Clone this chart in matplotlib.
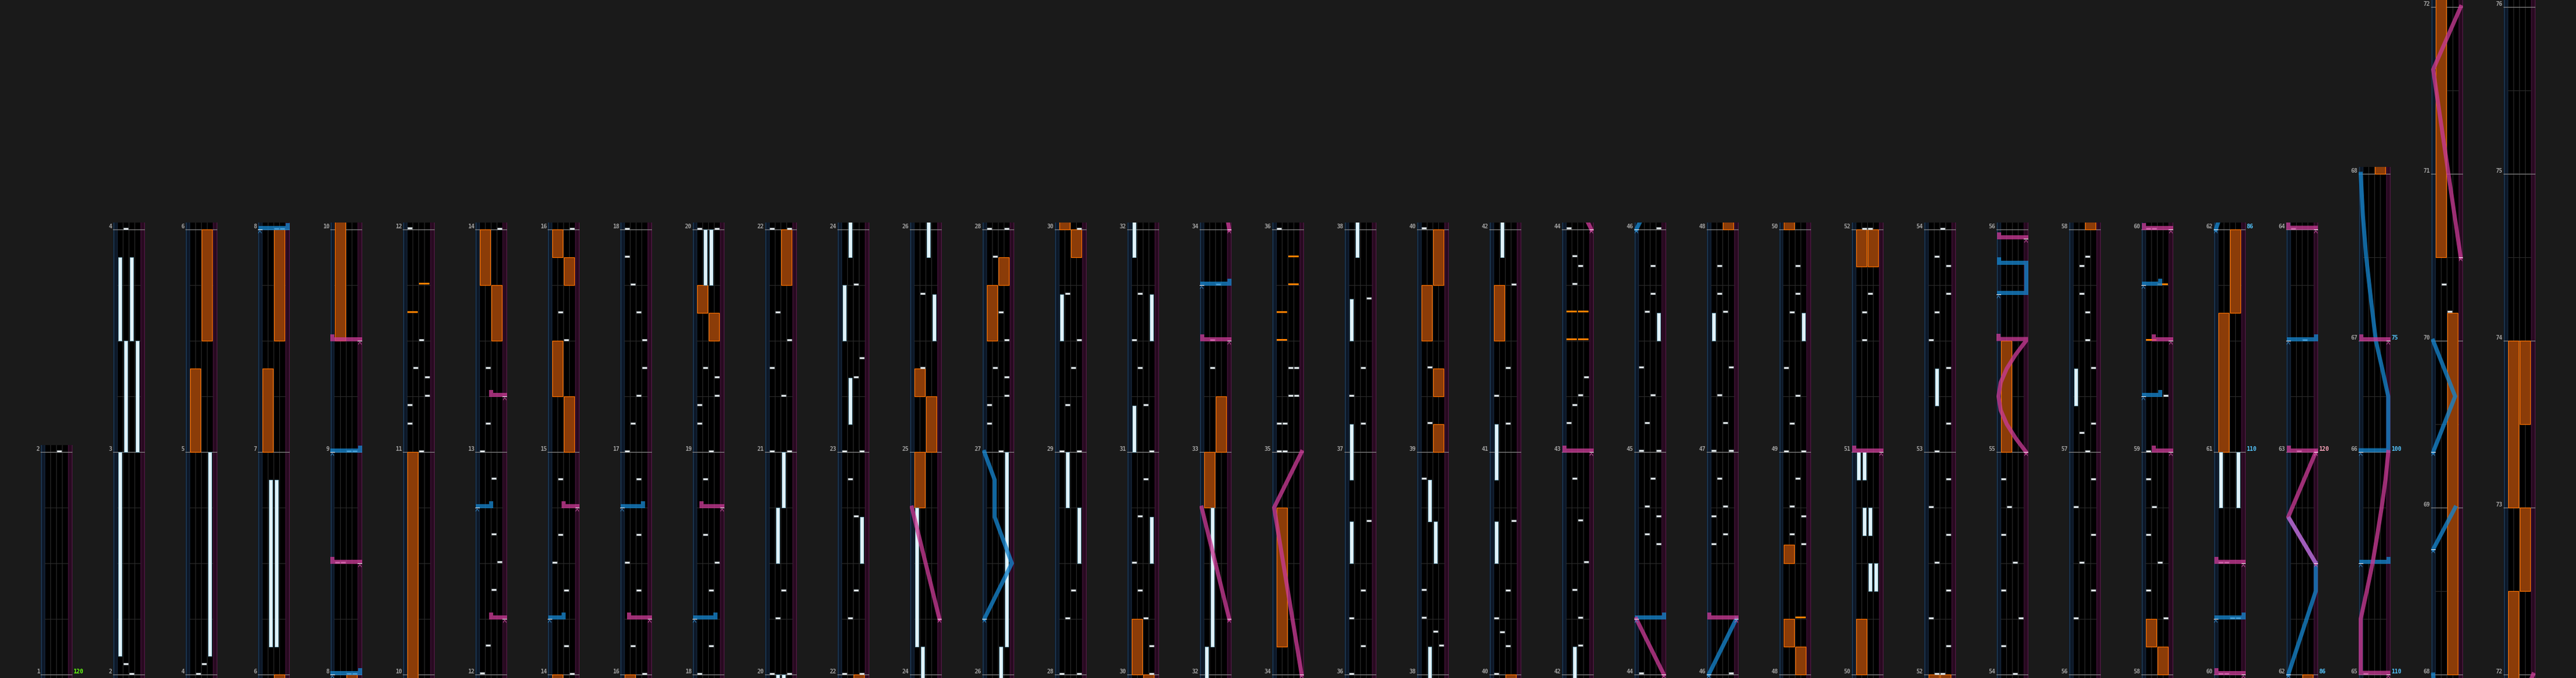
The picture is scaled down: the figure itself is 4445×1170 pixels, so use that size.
#!/usr/bin/env python3
"""
Chart preview: 4 BT lanes, 2 FX lanes and the two lasers, measures stacked
bottom-to-top in narrow columns, read left to right.
"""
import numpy as np
import matplotlib
matplotlib.use("Agg")
import matplotlib.pyplot as plt
from matplotlib.patches import Rectangle
from matplotlib.lines import Line2D

# ─── canvas ──────────────────────────────────────────────────────────────────
W_PX, H_PX, DPI = 4445, 1170, 100
PT = 72.0 / DPI            # one pixel expressed in points

# ─── layout (pixels) ─────────────────────────────────────────────────────────
COL_X0, COL_PITCH, COL_W = 70, 125, 55
STRIP = 7                  # laser strip at each side
LANE = 10                  # BT lane width
BASE_Y = 1164              # y of the first line of every column
PX_BEAT = 96               # 4/4 measure = 384 px
OVER_TOP = 12              # lanes reach a little above the last line

# ─── colours ─────────────────────────────────────────────────────────────────
BG = "#1a1a1a"
LANE_BG = "#000000"
GRID = "#2b2b2b"
BAR_LINE = "#8a8a8a"
STRIP_L, STRIP_L_EDGE = "#0d1828", "#22425f"
STRIP_R, STRIP_R_EDGE = "#280a20", "#571a49"
CHIP_FC, CHIP_EC = "#eef2f4", "#8d9aa0"
HOLD_FC, HOLD_EC = "#e2f2f8", "#78a9bd"
FX_FC, FX_EC = "#8b3c08", "#ff7300"
FX_CHIP = "#ff7f00"
LASER_COL = {"L": "#1684cc", "R": "#c83a94"}
CHEVRON = {"L": "#3d93d4", "R": "#d65cac"}
LABEL_COL = "#a2a2a2"
BPM_COL = {"start": "#66ff11", "down": "#55c6ff", "up": "#ffa6bd"}

# ─── measures / columns ──────────────────────────────────────────────────────
COLUMNS = [[1], [2, 3], [4, 5], [6, 7], [8, 9], [10, 11], [12, 13], [14, 15],
           [16, 17], [18, 19], [20, 21], [22, 23], [24, 25], [26, 27], [28, 29],
           [30, 31], [32, 33], [34, 35], [36, 37], [38, 39], [40, 41], [42, 43],
           [44, 45], [46, 47], [48, 49], [50, 51], [52, 53], [54, 55], [56, 57],
           [58, 59], [60, 61], [62, 63], [65, 66, 67], [68, 69, 70, 71],
           [72, 73, 74, 75]]
SHORT_MEASURES = {66: 2, 67: 3, 68: 3, 69: 3, 70: 3, 71: 3,
                  72: 3, 73: 3, 74: 3, 75: 3}
GRID_BEATS = {4: [1, 2, 3], 3: [1.5], 2: [1]}

# ─── tempo marks (measure line, text, kind) ──────────────────────────────────
BPM_AT = [1, 61, 62, 63, 65, 66, 67]
BPM_TEXT = ["120", "110", "86", "120", "110", "100", "75"]
BPM_KIND = ["start", "down", "down", "up", "down", "down", "down"]

# ─── notes: time = measure + fraction of the measure ─────────────────────────
# BT chips (time, lane 0..3)
BT_CHIPS = [
    (2.0, 2), (2.0417, 1), (4.0, 1), (4.0417, 2),
    (8.0, 2), (8.0, 3), (8.5, 0), (8.5, 1), (9.0, 2), (9.0, 3),
    (11.0, 2), (11.125, 0), (11.208, 0), (11.25, 3), (11.333, 3), (11.375, 1), (11.5, 2),
    (12.0, 0), (12.125, 1), (12.375, 2), (12.5, 3), (12.625, 2), (12.875, 2),
    (13.0, 0), (13.125, 1), (13.375, 1),
    (14.0, 3), (14.125, 2), (14.375, 2), (14.5, 0), (14.625, 1), (14.875, 1),
    (15.5, 2), (15.625, 1),
    (16.0, 3), (16.125, 1), (16.375, 2), (16.5, 0), (16.625, 2), (16.875, 2),
    (17.0, 0), (17.125, 1), (17.25, 2), (17.375, 3), (17.5, 3), (17.625, 2), (17.75, 1), (17.875, 0),
    (18.0, 0), (18.125, 2), (18.375, 2), (18.5, 3), (18.625, 1), (18.875, 1),
    (19.0, 2), (19.125, 0), (19.208, 0), (19.25, 3), (19.333, 3), (19.375, 1),
    (20.0, 0), (20.0, 3), (20.25, 1), (20.375, 2),
    (21.0, 0), (21.0, 3), (21.25, 2), (21.375, 0), (21.5, 3), (21.625, 1),
    (22.0, 0), (22.0, 3), (22.25, 1), (22.375, 2), (22.708, 2), (22.875, 1),
    (23.0, 0), (23.0, 3), (23.333, 2), (23.417, 3), (23.75, 2),
    (25.375, 1), (25.708, 1),
    (27.0, 2), (27.125, 0), (27.208, 0), (27.25, 3), (27.333, 3), (27.375, 1), (27.5, 3),
    (27.625, 2), (27.875, 1),
    (28.0, 0), (28.0, 3), (28.25, 1), (28.375, 2),
    (29.0, 0), (29.0, 3), (29.208, 1), (29.375, 2), (29.5, 3), (29.708, 1),
    (30.0, 3), (30.125, 3), (30.25, 2), (30.375, 1), (30.5, 0), (30.708, 1), (30.875, 2),
    (31.0, 3), (31.208, 2), (31.375, 1), (31.5, 0), (31.708, 1),
    (33.375, 1), (33.5, 1), (33.75, 2),
    (35.0, 0), (35.0, 1), (35.125, 0), (35.125, 1), (35.25, 2), (35.25, 3), (35.375, 2), (35.375, 3),
    (36.0, 0), (36.125, 2), (36.25, 0), (36.375, 2), (36.6875, 3),
    (37.125, 2), (37.25, 0), (37.375, 2), (37.6875, 3),
    (38.125, 3), (38.1875, 2), (38.25, 0), (38.375, 0), (38.875, 0),
    (39.125, 1), (39.375, 1),
    (40.0, 0), (40.125, 2), (40.1875, 1), (40.25, 0), (40.375, 2), (40.6875, 3),
    (41.125, 2), (41.25, 0), (41.375, 2), (41.75, 3),
    (42.125, 2), (42.25, 2), (42.375, 1), (42.5, 3), (42.6875, 2), (42.875, 1),
    (43.125, 0), (43.208, 1), (43.25, 2), (43.333, 3), (43.75, 1), (43.833, 2), (43.875, 1),
    (44.0, 0), (44.583, 3), (44.625, 1), (44.708, 3), (44.75, 1), (44.875, 2),
    (45.0, 0), (45.0, 3), (45.125, 1), (45.25, 2), (45.375, 0), (45.625, 1), (45.708, 2), (45.833, 2),
    (46.0, 3), (46.583, 0), (46.625, 2), (46.708, 0), (46.75, 2), (46.875, 1),
    (47.0, 0), (47.0, 3), (47.125, 2), (47.25, 1), (47.375, 3), (47.625, 2), (47.708, 1), (47.833, 1),
    (48.583, 3), (48.625, 1), (48.708, 3), (48.75, 1), (48.875, 2),
    (49.0, 0), (49.0, 3), (49.125, 1), (49.25, 2), (49.375, 0), (49.625, 1), (49.708, 2), (49.833, 2),
    (51.5, 1), (51.625, 1), (51.708, 2),
    (52.0, 1), (52.0, 2), (52.125, 3), (52.25, 0), (52.375, 3), (52.5, 1), (52.625, 3), (52.75, 0), (52.875, 3),
    (53.0, 1), (53.125, 3), (53.375, 3), (53.5, 0), (53.625, 1), (53.708, 3), (53.833, 3), (53.875, 1),
    (54.0, 2), (54.125, 0), (54.25, 3), (54.375, 0), (54.5, 2), (54.625, 0), (54.75, 1), (54.875, 0),
    (56.25, 0), (56.375, 3), (56.5, 1), (56.625, 3), (56.75, 0), (56.875, 3),
    (57.0, 2), (57.083, 1), (57.125, 3), (57.375, 3), (57.5, 2), (57.625, 2), (57.708, 1),
    (57.833, 1), (57.875, 2),
    (58.25, 3), (58.375, 0), (58.5, 2), (58.625, 0), (58.75, 1), (58.875, 0),
    (59.0, 0), (59.25, 3),
    (60.0, 0), (60.0, 1), (60.25, 2), (60.25, 3), (60.5, 0), (60.5, 1),
    (63.0, 1), (63.5, 2), (65.0, 0),
    (70.167, 2), (70.333, 1),
]

# BT holds (lane, start, end)
BT_HOLDS = [
    (0, 2.083, 3.0), (1, 3.0, 3.5), (3, 3.0, 3.5), (0, 3.5, 3.875), (2, 3.5, 3.875),
    (3, 4.083, 5.0), (1, 6.125, 6.875), (2, 6.125, 6.875),
    (1, 19.75, 20.0), (2, 19.75, 20.0), (1, 20.5, 20.75), (2, 20.75, 21.0),
    (3, 22.5, 22.708), (1, 23.125, 23.333), (0, 23.5, 23.75), (1, 23.875, 24.125),
    (0, 24.125, 24.75), (3, 25.5, 25.708), (2, 25.875, 26.125), (3, 26.125, 27.0),
    (3, 28.5, 28.75), (1, 28.75, 29.0), (0, 29.5, 29.708), (3, 30.5, 30.708),
    (0, 31.0, 31.208), (3, 31.5, 31.708), (0, 31.875, 32.125), (1, 32.125, 32.75),
    (0, 36.5, 36.6875), (0, 36.875, 37.125), (0, 37.5, 37.6875), (1, 37.875, 38.125),
    (2, 38.5, 38.6875), (1, 38.6875, 38.875),
    (0, 40.5, 40.6875), (0, 40.875, 41.125), (1, 41.875, 42.125),
    (3, 45.5, 45.625), (0, 47.5, 47.625), (3, 49.5, 49.625),
    (2, 50.375, 50.5), (3, 50.375, 50.5), (1, 50.625, 50.75), (2, 50.625, 50.75),
    (0, 50.875, 51.0), (1, 50.875, 51.0),
    (1, 53.208, 53.375), (0, 57.208, 57.375), (0, 60.75, 61.0), (3, 60.75, 61.0),
]

# FX chips (time, side 0=L 1=R)
FX_CHIPS = [(11.625, 0), (11.75, 1), (35.5, 0), (35.625, 0), (35.75, 1), (35.875, 1),
            (43.5, 0), (43.5, 1), (43.625, 0), (43.625, 1), (48.25, 1),
            (59.5, 0), (59.75, 1)]

# FX holds (side, start, end)
FX_HOLDS = [
    (0, 5.0, 5.375), (1, 5.5, 6.0), (0, 7.0, 7.375), (1, 7.5, 8.0), (0, 9.5, 11.0),
    (1, 13.5, 13.75), (0, 13.75, 14.0),
    (1, 15.0, 15.25), (0, 15.25, 15.5), (1, 15.75, 15.875), (0, 15.875, 16.0),
    (1, 19.5, 19.625), (0, 19.625, 19.75), (1, 21.75, 22.0),
    (0, 24.75, 25.0), (1, 25.0, 25.25), (0, 25.25, 25.375),
    (0, 27.5, 27.75), (1, 27.75, 27.875), (1, 29.875, 30.0), (0, 30.0, 30.25),
    (0, 32.75, 33.0), (1, 33.0, 33.25), (0, 34.125, 34.75),
    (1, 39.0, 39.125), (1, 39.25, 39.375), (0, 39.5, 39.75), (1, 39.75, 40.0),
    (0, 41.5, 41.75),
    (1, 48.0, 48.125), (0, 48.125, 48.25), (0, 48.5, 48.583), (0, 50.0, 50.25),
    (0, 51.833, 52.0), (1, 51.833, 52.0), (0, 55.0, 55.5),
    (1, 58.0, 58.125), (0, 58.125, 58.25), (0, 61.0, 61.625), (1, 61.625, 62.0),
    (1, 68.0, 70.167), (0, 70.5, 72.5), (1, 72.5, 73.0), (0, 73.0, 74.0), (1, 73.5, 74.0),
]

# lasers: list of (time, position 0=left .. 1=right); equal times = slam
LASER_L = [
    [(8.0, 0), (8.0, 1)], [(9.0, 0), (9.0, 1)],
    [(12.75, 0), (12.75, 0.5)], [(14.25, 0), (14.25, 0.5)],
    [(16.75, 0), (16.75, 0.75)], [(18.25, 0), (18.25, 0.75)],
    [(26.25, 0), (26.5, 1), (26.708, 0.375), (26.875, 0.375), (27.0, 0)],
    [(33.75, 0), (33.75, 1)], [(44.25, 0), (44.25, 1)], [(46.0, 0), (46.25, 1)],
    [(55.708, 0), (55.708, 1), (55.844, 1), (55.844, 0)],
    [(59.25, 0), (59.25, 0.6)], [(59.75, 0), (59.75, 0.6)], [(60.25, 0), (60.25, 1)],
    [(62.0, 0), (62.375, 1), (62.5, 1)], [(63.5, 0), (63.5, 1)], [(65.5, 0), (65.5, 1)],
    [(66.0, 0), (66.0, 1), (66.5, 1), (66.75, 0.78), (67.0, 0.55), (67.25, 0.37),
     (67.5, 0.2), (67.75, 0.08), (68.0, 0)],
    [(68.75, 0), (69.0, 0.8)], [(69.333, 0), (69.667, 0.8), (70.0, 0)],
]
LASER_R = [
    [(8.5, 1), (8.5, 0)], [(9.5, 1), (9.5, 0)],
    [(12.25, 1), (12.25, 0.5)], [(13.25, 1), (13.25, 0.5)], [(14.75, 1), (14.75, 0.5)],
    [(16.25, 1), (16.25, 0.25)], [(18.75, 1), (18.75, 0.25)],
    [(24.25, 1), (24.75, 0)], [(32.25, 1), (32.75, 0)], [(33.5, 1), (33.5, 0)],
    [(34.0, 1), (34.75, 0), (35.0, 1)], [(43.0, 1), (43.0, 0)], [(44.0, 1), (44.25, 0)],
    [(46.25, 1), (46.25, 0)], [(51.0, 1), (51.0, 0)],
    [(55.0, 1), (55.0625, 0.62), (55.125, 0.3), (55.1875, 0.08), (55.25, 0),
     (55.3125, 0.08), (55.375, 0.3), (55.4375, 0.62), (55.5, 1), (55.5, 0)],
    [(55.958, 1), (55.958, 0)], [(59.0, 1), (59.0, 0.37)], [(59.5, 1), (59.5, 0.37)],
    [(60.0, 1), (60.0, 0)], [(60.5, 1), (60.5, 0)],
    [(62.5, 1), (62.708, 0), (63.0, 1)], [(63.0, 1), (63.0, 0)],
    [(65.0, 1), (65.0, 0), (65.25, 0), (65.375, 0.22), (65.5, 0.43), (65.625, 0.6),
     (65.75, 0.76), (65.875, 0.9), (66.0, 1)],
    [(67.0, 1), (67.0, 0)], [(70.5, 1), (71.625, 0), (72.0, 1)],
]
# laser stretches drawn in a lighter tint on top
TINT_SEGMENTS = [[(62.5, 1), (62.708, 0)]]
TINT_COLOR = "#a066c8"

# ─── time helpers ────────────────────────────────────────────────────────────
START, LENGTH = {}, {}
acc = 0
for col in COLUMNS:
    for m in col:
        START[m] = acc
        LENGTH[m] = SHORT_MEASURES.get(m, 4)
        acc += LENGTH[m]
START[64], LENGTH[64] = START[65], 0
START[76], LENGTH[76] = acc, 0


def beat(t):
    m = int(np.floor(t + 1e-6))
    return START[m] + (t - m) * LENGTH[m]


def lx(p):
    """laser centre x inside a column"""
    return STRIP / 2 + p * (COL_W - STRIP / 2 - 4)


H_SLAM = 3.0 / PX_BEAT
TAIL = 8.5 / PX_BEAT


def laser_path(pts):
    xs, ys = [], []
    n = len(pts)
    for i, (t, p) in enumerate(pts):
        b = beat(t)
        slam_in = i > 0 and abs(pts[i - 1][0] - t) < 1e-6
        slam_out = i < n - 1 and abs(pts[i + 1][0] - t) < 1e-6
        if slam_in:
            xs.append(lx(p)); ys.append(b + H_SLAM)
        elif slam_out:
            if i > 0:
                xs.append(lx(p)); ys.append(b)
            xs.append(lx(p)); ys.append(b + H_SLAM)
        else:
            xs.append(lx(p)); ys.append(b)
    if n > 1 and abs(pts[-1][0] - pts[-2][0]) < 1e-6:
        xs.append(xs[-1]); ys.append(beat(pts[-1][0]) + TAIL)
    return xs, ys


# ─── figure ──────────────────────────────────────────────────────────────────
fig = plt.figure(figsize=(W_PX / DPI, H_PX / DPI), dpi=DPI, facecolor=BG)
bg = fig.add_axes([0, 0, 1, 1])
bg.set_xlim(0, W_PX)
bg.set_ylim(H_PX, 0)
bg.axis("off")

FONT = dict(family="DejaVu Sans Mono", fontweight="bold", fontsize=7)

for k, ms in enumerate(COLUMNS):
    L = COL_X0 + k * COL_PITCH
    b0 = START[ms[0]]
    b1 = START[ms[-1]] + LENGTH[ms[-1]]
    y_top_line = BASE_Y - PX_BEAT * (b1 - b0)
    y_ax_top = max(y_top_line - OVER_TOP, 0)
    yb = b0 - (H_PX - BASE_Y) / PX_BEAT
    yt = b0 + (BASE_Y - y_ax_top) / PX_BEAT

    ax = fig.add_axes([L / W_PX, 0, COL_W / W_PX, (H_PX - y_ax_top) / H_PX])
    ax.set_xlim(0, COL_W)
    ax.set_ylim(yb, yt)
    ax.axis("off")

    # -- lane background, strips, grid
    ax.add_patch(Rectangle((0, yb), STRIP, yt - yb, fc=STRIP_L, ec="none", zorder=0))
    ax.add_patch(Rectangle((STRIP, yb), 4 * LANE, yt - yb, fc=LANE_BG, ec="none", zorder=0))
    ax.add_patch(Rectangle((STRIP + 4 * LANE, yb), COL_W - STRIP - 4 * LANE, yt - yb,
                           fc=STRIP_R, ec="none", zorder=0))
    for xv, c in [(0.6, STRIP_L_EDGE), (STRIP - 0.5, "#16273b"),
                  (STRIP + 4 * LANE + 0.5, "#3a1233"), (COL_W - 0.6, STRIP_R_EDGE)]:
        ax.axvline(xv, color=c, lw=1.2 * PT, zorder=0.5)
    for j in (1, 2, 3):
        ax.axvline(STRIP + j * LANE, color=GRID, lw=1 * PT, zorder=0.5)
    for m in ms:
        for gb in GRID_BEATS[LENGTH[m]]:
            ax.plot([STRIP, STRIP + 4 * LANE], [START[m] + gb] * 2,
                    color=GRID, lw=1 * PT, zorder=0.5)

    # -- measure lines and labels
    lines = [(m, START[m]) for m in ms] + [(ms[-1] + 1, b1)]
    for lab, bl in lines:
        ax.plot([0, COL_W], [bl, bl], color=BAR_LINE, lw=1.2 * PT, zorder=0.6)
        y_px = BASE_Y - PX_BEAT * (bl - b0)
        bg.text(L - 1.5, y_px - 4.5, str(lab), ha="right", va="center",
                color=LABEL_COL, **FONT)
        for at, txt, kind in zip(BPM_AT, BPM_TEXT, BPM_KIND):
            if at == lab:
                bg.text(L + COL_W + 1.5, y_px - 4.5, txt, ha="left", va="center",
                        color=BPM_COL[kind], **FONT)

    def visible(s, e):
        return e >= yb - 0.05 and s <= yt + 0.05

    # -- FX holds
    for side, s, e in FX_HOLDS:
        bs, be = beat(s), beat(e)
        if visible(bs, be):
            ax.add_patch(Rectangle((STRIP + 2 * LANE * side + 0.6, bs), 2 * LANE - 1.2, be - bs,
                                   fc=FX_FC, ec=FX_EC, lw=1.2 * PT, zorder=1))
    # -- BT holds
    for lane, s, e in BT_HOLDS:
        bs, be = beat(s), beat(e)
        if visible(bs, be):
            ax.add_patch(Rectangle((STRIP + LANE * lane + 1.7, bs), 6.6, be - bs,
                                   fc=HOLD_FC, ec=HOLD_EC, lw=1.0 * PT, zorder=2))
    # -- FX chips
    for t, side in FX_CHIPS:
        bt = beat(t)
        if visible(bt, bt):
            ax.add_patch(Rectangle((STRIP + 2 * LANE * side + 0.6, bt + 0.5 / PX_BEAT),
                                   2 * LANE - 1.2, 3 / PX_BEAT, fc=FX_CHIP, ec="none", zorder=3))
    # -- BT chips
    for t, lane in BT_CHIPS:
        bt = beat(t)
        if visible(bt, bt):
            ax.add_patch(Rectangle((STRIP + LANE * lane + 1, bt + 0.5 / PX_BEAT), 8, 3 / PX_BEAT,
                                   fc=CHIP_FC, ec=CHIP_EC, lw=0.6 * PT, zorder=3))
    # -- lasers
    for side, lasers in (("L", LASER_L), ("R", LASER_R)):
        for pts in lasers:
            bs, be = beat(pts[0][0]), beat(pts[-1][0]) + TAIL
            if not visible(bs, be):
                continue
            xs, ys = laser_path(pts)
            ax.add_line(Line2D(xs, ys, color=LASER_COL[side], alpha=0.78, lw=7 * PT,
                               solid_capstyle="projecting", solid_joinstyle="miter",
                               zorder=4))
            x0 = lx(pts[0][1])
            ax.plot([x0 - 3.5, x0 + 3.5], [bs, bs], color="white", lw=1 * PT, zorder=5)
            ax.plot([x0 - 2.5, x0, x0 + 2.5],
                    [bs - 6 / PX_BEAT, bs - 2 / PX_BEAT, bs - 6 / PX_BEAT],
                    color=CHEVRON[side], lw=0.9 * PT, zorder=5)
    for pts in TINT_SEGMENTS:
        bs, be = beat(pts[0][0]), beat(pts[-1][0])
        if visible(bs, be):
            xs, ys = laser_path(pts)
            ax.add_line(Line2D(xs, ys, color=TINT_COLOR, alpha=0.85, lw=7 * PT,
                               solid_capstyle="butt", zorder=4.5))

fig.savefig("out.png", dpi=DPI, facecolor=BG)
plt.close(fig)
